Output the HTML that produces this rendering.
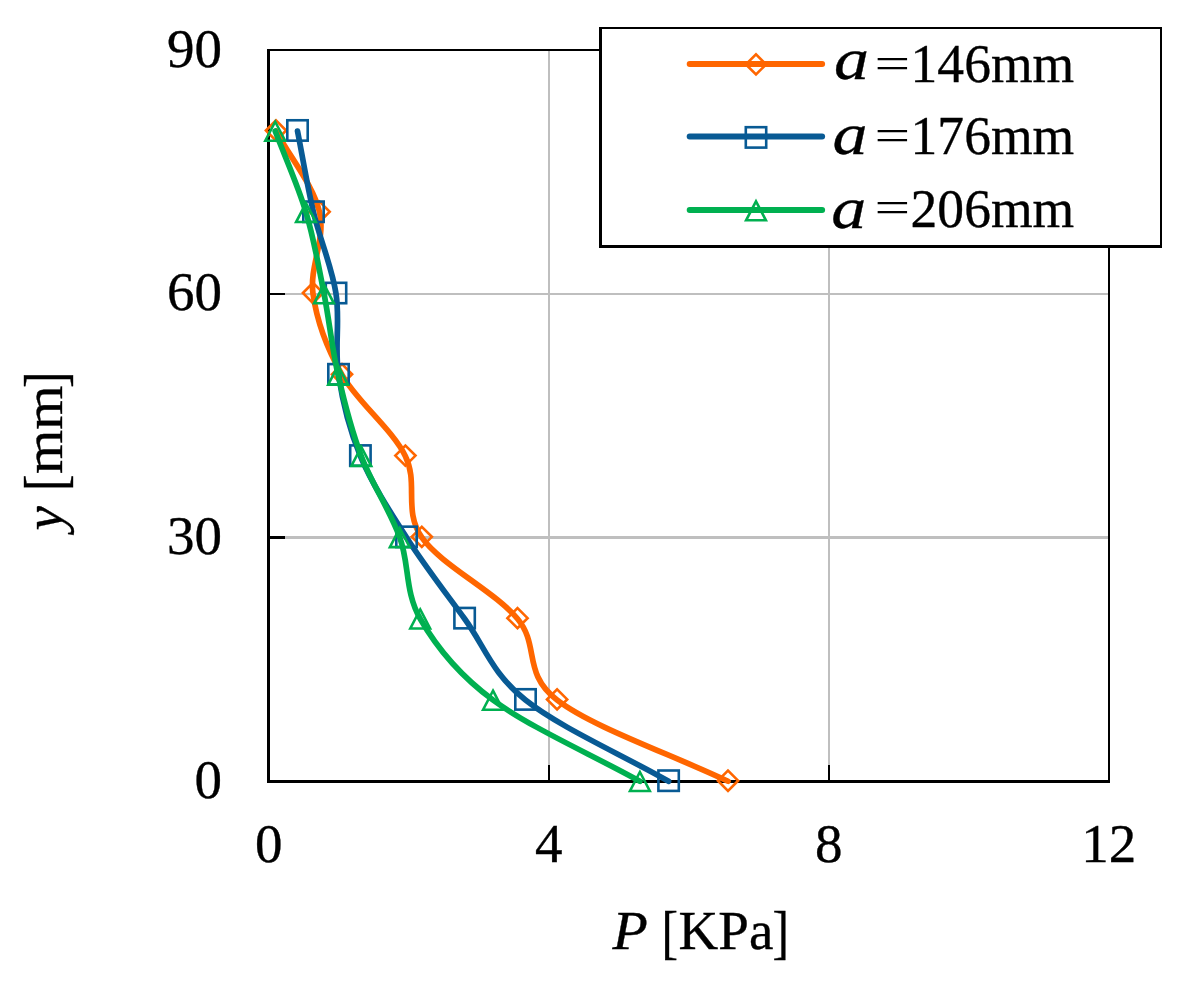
<!DOCTYPE html>
<html><head><meta charset="utf-8"><title>chart</title>
<style>html,body{margin:0;padding:0;background:#fff}body{width:1189px;height:981px;overflow:hidden}</style></head>
<body>
<svg width="1189" height="981" viewBox="0 0 1189 981" style="display:block">
<rect width="1189" height="981" fill="#fff"/>
<rect x="548" y="51" width="2" height="729" fill="#BFBFBF"/>
<rect x="828" y="51" width="2" height="729" fill="#BFBFBF"/>
<rect x="270" y="293" width="838" height="2" fill="#BFBFBF"/>
<rect x="270" y="536" width="838" height="3" fill="#BFBFBF"/>
<rect x="548" y="765" width="2" height="15" fill="#000"/>
<rect x="828" y="765" width="2" height="15" fill="#000"/>
<rect x="270" y="293" width="15" height="2" fill="#000"/>
<rect x="270" y="536" width="15" height="3" fill="#000"/>
<rect x="267" y="49" width="3" height="734" fill="#000"/>
<rect x="267" y="780" width="843" height="3" fill="#000"/>
<rect x="267" y="49" width="843" height="2" fill="#000"/>
<rect x="1108" y="49" width="2" height="734" fill="#000"/>
<path d="M276.00 131.06 C290.53 158.15 313.43 185.25 319.60 212.34 C325.77 239.43 309.27 266.53 313.00 293.62 C316.73 320.71 326.60 347.81 342.00 374.90 C357.40 401.99 392.10 429.09 405.40 456.18 C418.70 483.27 403.12 510.37 421.80 537.46 C440.48 564.55 494.95 591.65 517.50 618.74 C540.05 645.83 522.02 672.93 557.10 700.02 C592.18 727.11 671.03 754.21 728.00 781.30" fill="none" stroke="#FF6600" stroke-width="5.7" stroke-linecap="round" stroke-linejoin="round"/>
<path d="M265.90 130.46 L276.00 120.36 L286.10 130.46 L276.00 140.56 Z" fill="none" stroke="#FF6600" stroke-width="2.60" stroke-linejoin="miter"/>
<path d="M309.50 211.74 L319.60 201.64 L329.70 211.74 L319.60 221.84 Z" fill="none" stroke="#FF6600" stroke-width="2.60" stroke-linejoin="miter"/>
<path d="M302.90 293.02 L313.00 282.92 L323.10 293.02 L313.00 303.12 Z" fill="none" stroke="#FF6600" stroke-width="2.60" stroke-linejoin="miter"/>
<path d="M331.90 374.30 L342.00 364.20 L352.10 374.30 L342.00 384.40 Z" fill="none" stroke="#FF6600" stroke-width="2.60" stroke-linejoin="miter"/>
<path d="M395.30 455.58 L405.40 445.48 L415.50 455.58 L405.40 465.68 Z" fill="none" stroke="#FF6600" stroke-width="2.60" stroke-linejoin="miter"/>
<path d="M411.70 536.86 L421.80 526.76 L431.90 536.86 L421.80 546.96 Z" fill="none" stroke="#FF6600" stroke-width="2.60" stroke-linejoin="miter"/>
<path d="M507.40 618.14 L517.50 608.04 L527.60 618.14 L517.50 628.24 Z" fill="none" stroke="#FF6600" stroke-width="2.60" stroke-linejoin="miter"/>
<path d="M547.00 699.42 L557.10 689.32 L567.20 699.42 L557.10 709.52 Z" fill="none" stroke="#FF6600" stroke-width="2.60" stroke-linejoin="miter"/>
<path d="M717.90 780.70 L728.00 770.60 L738.10 780.70 L728.00 790.80 Z" fill="none" stroke="#FF6600" stroke-width="2.60" stroke-linejoin="miter"/>
<path d="M297.50 131.06 C302.83 158.15 307.08 185.25 313.50 212.34 C319.92 239.43 331.83 266.53 336.00 293.62 C340.17 320.71 334.43 347.81 338.50 374.90 C342.57 401.99 349.07 429.09 360.40 456.18 C371.73 483.27 389.13 510.37 406.50 537.46 C423.87 564.55 444.77 591.65 464.60 618.74 C484.43 645.83 491.50 672.93 525.50 700.02 C559.50 727.11 620.90 754.21 668.60 781.30" fill="none" stroke="#085A94" stroke-width="5.7" stroke-linecap="round" stroke-linejoin="round"/>
<rect x="287.30" y="120.26" width="20.40" height="20.40" fill="none" stroke="#085A94" stroke-width="2.60"/>
<rect x="303.30" y="201.54" width="20.40" height="20.40" fill="none" stroke="#085A94" stroke-width="2.60"/>
<rect x="325.80" y="282.82" width="20.40" height="20.40" fill="none" stroke="#085A94" stroke-width="2.60"/>
<rect x="328.30" y="364.10" width="20.40" height="20.40" fill="none" stroke="#085A94" stroke-width="2.60"/>
<rect x="350.20" y="445.38" width="20.40" height="20.40" fill="none" stroke="#085A94" stroke-width="2.60"/>
<rect x="396.30" y="526.66" width="20.40" height="20.40" fill="none" stroke="#085A94" stroke-width="2.60"/>
<rect x="454.40" y="607.94" width="20.40" height="20.40" fill="none" stroke="#085A94" stroke-width="2.60"/>
<rect x="515.30" y="689.22" width="20.40" height="20.40" fill="none" stroke="#085A94" stroke-width="2.60"/>
<rect x="658.40" y="770.50" width="20.40" height="20.40" fill="none" stroke="#085A94" stroke-width="2.60"/>
<path d="M275.20 131.06 C285.47 158.15 297.87 185.25 306.00 212.34 C314.13 239.43 318.65 266.53 324.00 293.62 C329.35 320.71 331.88 347.81 338.10 374.90 C344.32 401.99 351.02 429.09 361.30 456.18 C371.58 483.27 389.98 510.37 399.80 537.46 C409.62 564.55 404.67 591.65 420.20 618.74 C435.73 645.83 456.38 672.93 493.00 700.02 C529.62 727.11 590.93 754.21 639.90 781.30" fill="none" stroke="#00B050" stroke-width="5.7" stroke-linecap="round" stroke-linejoin="round"/>
<path d="M275.20 121.76 L285.10 140.76 L265.30 140.76 Z" fill="none" stroke="#00B050" stroke-width="2.60" stroke-linejoin="miter"/>
<path d="M306.00 203.04 L315.90 222.04 L296.10 222.04 Z" fill="none" stroke="#00B050" stroke-width="2.60" stroke-linejoin="miter"/>
<path d="M324.00 284.32 L333.90 303.32 L314.10 303.32 Z" fill="none" stroke="#00B050" stroke-width="2.60" stroke-linejoin="miter"/>
<path d="M338.10 365.60 L348.00 384.60 L328.20 384.60 Z" fill="none" stroke="#00B050" stroke-width="2.60" stroke-linejoin="miter"/>
<path d="M361.30 446.88 L371.20 465.88 L351.40 465.88 Z" fill="none" stroke="#00B050" stroke-width="2.60" stroke-linejoin="miter"/>
<path d="M399.80 528.16 L409.70 547.16 L389.90 547.16 Z" fill="none" stroke="#00B050" stroke-width="2.60" stroke-linejoin="miter"/>
<path d="M420.20 609.44 L430.10 628.44 L410.30 628.44 Z" fill="none" stroke="#00B050" stroke-width="2.60" stroke-linejoin="miter"/>
<path d="M493.00 690.72 L502.90 709.72 L483.10 709.72 Z" fill="none" stroke="#00B050" stroke-width="2.60" stroke-linejoin="miter"/>
<path d="M639.90 772.00 L649.80 791.00 L630.00 791.00 Z" fill="none" stroke="#00B050" stroke-width="2.60" stroke-linejoin="miter"/>
<rect x="599" y="27" width="563" height="221" fill="#fff"/>
<rect x="599" y="27" width="3" height="221" fill="#000"/>
<rect x="599" y="245" width="563" height="3" fill="#000"/>
<rect x="599" y="27" width="563" height="2" fill="#000"/>
<rect x="1160" y="27" width="2" height="221" fill="#000"/>
<line x1="689.7" y1="64.0" x2="822.1" y2="64.0" stroke="#FF6600" stroke-width="6" stroke-linecap="round"/>
<path d="M745.90 64.40 L756.00 54.30 L766.10 64.40 L756.00 74.50 Z" fill="none" stroke="#FF6600" stroke-width="2.60" stroke-linejoin="miter"/>
<text transform="translate(834.00,78.70) scale(1.1650,1.0000)" font-family="'Liberation Serif', 'Times New Roman', serif" font-size="60" font-style="italic" fill="#000" stroke="#000" stroke-width="0.35">a</text>
<text transform="translate(874.50,77.50) scale(1.1500,0.8200)" font-family="'Liberation Serif', 'Times New Roman', serif" font-size="55" fill="#000" stroke="#000" stroke-width="0">=</text>
<text transform="translate(910.60,82.00) scale(0.9740,1.0000)" font-family="'Liberation Serif', 'Times New Roman', serif" font-size="55" fill="#000" stroke="#000" stroke-width="0.35">146mm</text>
<line x1="689.7" y1="136.5" x2="822.1" y2="136.5" stroke="#085A94" stroke-width="6" stroke-linecap="round"/>
<rect x="745.80" y="127.20" width="20.40" height="20.40" fill="none" stroke="#085A94" stroke-width="2.60"/>
<text transform="translate(832.50,154.00) scale(1.1650,1.0000)" font-family="'Liberation Serif', 'Times New Roman', serif" font-size="60" font-style="italic" fill="#000" stroke="#000" stroke-width="0.35">a</text>
<text transform="translate(874.50,149.80) scale(1.1500,0.8200)" font-family="'Liberation Serif', 'Times New Roman', serif" font-size="55" fill="#000" stroke="#000" stroke-width="0">=</text>
<text transform="translate(910.60,154.30) scale(0.9740,1.0000)" font-family="'Liberation Serif', 'Times New Roman', serif" font-size="55" fill="#000" stroke="#000" stroke-width="0.35">176mm</text>
<line x1="689.7" y1="210.0" x2="822.1" y2="210.0" stroke="#00B050" stroke-width="6" stroke-linecap="round"/>
<path d="M756.00 201.30 L765.90 220.30 L746.10 220.30 Z" fill="none" stroke="#00B050" stroke-width="2.60" stroke-linejoin="miter"/>
<text transform="translate(831.20,227.50) scale(1.1650,1.0000)" font-family="'Liberation Serif', 'Times New Roman', serif" font-size="60" font-style="italic" fill="#000" stroke="#000" stroke-width="0.35">a</text>
<text transform="translate(874.50,222.10) scale(1.1500,0.8200)" font-family="'Liberation Serif', 'Times New Roman', serif" font-size="55" fill="#000" stroke="#000" stroke-width="0">=</text>
<text transform="translate(910.60,226.60) scale(0.9740,1.0000)" font-family="'Liberation Serif', 'Times New Roman', serif" font-size="55" fill="#000" stroke="#000" stroke-width="0.35">206mm</text>
<text transform="translate(222.00,66.58)" font-family="'Liberation Serif', 'Times New Roman', serif" font-size="55" text-anchor="end" fill="#000" stroke="#000" stroke-width="0.35">90</text>
<text transform="translate(222.00,310.42)" font-family="'Liberation Serif', 'Times New Roman', serif" font-size="55" text-anchor="end" fill="#000" stroke="#000" stroke-width="0.35">60</text>
<text transform="translate(222.00,554.26)" font-family="'Liberation Serif', 'Times New Roman', serif" font-size="55" text-anchor="end" fill="#000" stroke="#000" stroke-width="0.35">30</text>
<text transform="translate(222.00,798.10)" font-family="'Liberation Serif', 'Times New Roman', serif" font-size="55" text-anchor="end" fill="#000" stroke="#000" stroke-width="0.35">0</text>
<text transform="translate(268.80,861.70)" font-family="'Liberation Serif', 'Times New Roman', serif" font-size="55" text-anchor="middle" fill="#000" stroke="#000" stroke-width="0.35">0</text>
<text transform="translate(548.80,861.70)" font-family="'Liberation Serif', 'Times New Roman', serif" font-size="55" text-anchor="middle" fill="#000" stroke="#000" stroke-width="0.35">4</text>
<text transform="translate(828.80,861.70)" font-family="'Liberation Serif', 'Times New Roman', serif" font-size="55" text-anchor="middle" fill="#000" stroke="#000" stroke-width="0.35">8</text>
<text transform="translate(1108.80,861.70)" font-family="'Liberation Serif', 'Times New Roman', serif" font-size="55" text-anchor="middle" fill="#000" stroke="#000" stroke-width="0.35">12</text>
<text transform="translate(612.50,948.80) scale(1.0500,1.0000)" font-family="'Liberation Serif', 'Times New Roman', serif" font-size="55" font-style="italic" fill="#000" stroke="#000" stroke-width="0.35">P</text>
<text transform="translate(661.60,952.20) scale(0.9000,1.0590)" font-family="'Liberation Serif', 'Times New Roman', serif" font-size="55" fill="#000" stroke="#000" stroke-width="0.35">[</text>
<text transform="translate(678.60,948.80)" font-family="'Liberation Serif', 'Times New Roman', serif" font-size="55" fill="#000" stroke="#000" stroke-width="0.35">KPa</text>
<text transform="translate(772.50,952.20) scale(0.9000,1.0590)" font-family="'Liberation Serif', 'Times New Roman', serif" font-size="55" fill="#000" stroke="#000" stroke-width="0.35">]</text>
<text transform="translate(62.00,530.50) rotate(-90)" font-family="'Liberation Serif', 'Times New Roman', serif" font-size="55" font-style="italic" fill="#000" stroke="#000" stroke-width="0.35">y</text>
<text transform="translate(65.00,491.00) rotate(-90) scale(0.9000,1.0600)" font-family="'Liberation Serif', 'Times New Roman', serif" font-size="55" fill="#000" stroke="#000" stroke-width="0.35">[</text>
<text transform="translate(62.00,474.10) rotate(-90) scale(1.0350,1.0000)" font-family="'Liberation Serif', 'Times New Roman', serif" font-size="55" fill="#000" stroke="#000" stroke-width="0.35">mm</text>
<text transform="translate(65.00,388.00) rotate(-90) scale(0.9000,1.0600)" font-family="'Liberation Serif', 'Times New Roman', serif" font-size="55" fill="#000" stroke="#000" stroke-width="0.35">]</text>
</svg>
</body></html>
